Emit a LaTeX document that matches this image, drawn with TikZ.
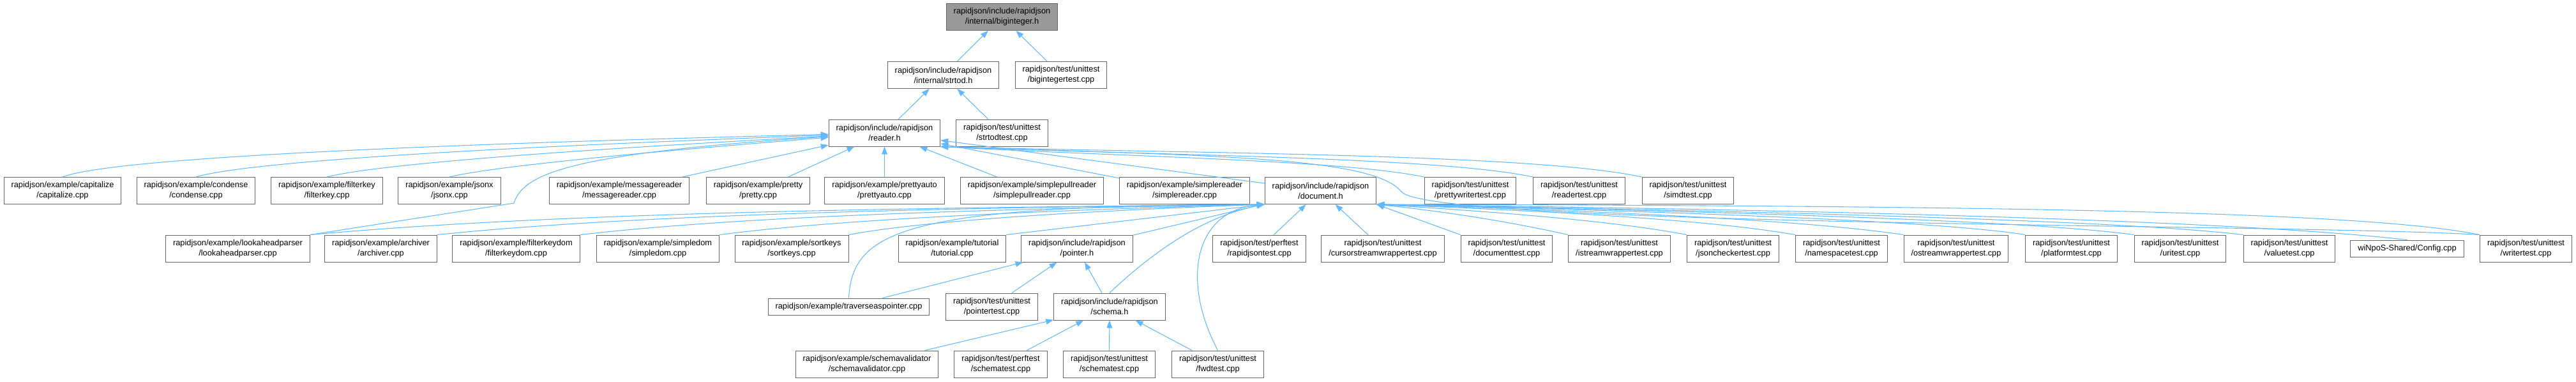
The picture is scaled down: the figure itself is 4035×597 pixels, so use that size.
\documentclass[tikz,border=0pt]{standalone}
\usepackage{fontspec}
\setmainfont{Liberation Sans}
\usetikzlibrary{arrows.meta}
\definecolor{edgeblue}{HTML}{63B8FF}
\definecolor{boxline}{HTML}{666666}
\definecolor{rootfill}{HTML}{999999}

\begin{document}
\begin{tikzpicture}[
  x=0.75pt, y=-0.75pt,
  font=\fontsize{9.6}{12}\selectfont,
  file/.style={draw=boxline, fill=white, line width=0.75pt, align=center,
               inner xsep=8.6pt, inner ysep=0pt, minimum height=31.5pt},
  flat/.style={file, minimum height=19.5pt},
  root/.style={file, fill=rootfill},
  incl/.style={draw=edgeblue, line width=0.8pt, {Triangle[length=9pt,width=6.5pt]}-}
]
\useasboundingbox (0,0) rectangle (4035,597);

\node[root] (biginteger) at (1569.5,26.5) {rapidjson/include/rapidjson\\/internal/biginteger.h};

\node[file] (strtod) at (1477.5,117.5) {rapidjson/include/rapidjson\\/internal/strtod.h};
\node[file] (bigintegertest) at (1662,117.5) {rapidjson/test/unittest\\/bigintegertest.cpp};

\node[file] (reader) at (1385.5,208) {rapidjson/include/rapidjson\\/reader.h};
\node[file] (strtodtest) at (1569.5,208) {rapidjson/test/unittest\\/strtodtest.cpp};

\node[file] (capitalize) at (98,298.5) {rapidjson/example/capitalize\\/capitalize.cpp};
\node[file] (condense) at (307,298.5) {rapidjson/example/condense\\/condense.cpp};
\node[file] (filterkey) at (512,298.5) {rapidjson/example/filterkey\\/filterkey.cpp};
\node[file] (jsonx) at (704,298.5) {rapidjson/example/jsonx\\/jsonx.cpp};
\node[file] (messagereader) at (970,298.5) {rapidjson/example/messagereader\\/messagereader.cpp};
\node[file] (pretty) at (1187.5,298.5) {rapidjson/example/pretty\\/pretty.cpp};
\node[file] (prettyauto) at (1385.5,298.5) {rapidjson/example/prettyauto\\/prettyauto.cpp};
\node[file] (simplepullreader) at (1616.5,298.5) {rapidjson/example/simplepullreader\\/simplepullreader.cpp};
\node[file] (simplereader) at (1855.5,298.5) {rapidjson/example/simplereader\\/simplereader.cpp};
\node[file] (document) at (2068.5,298.5) {rapidjson/include/rapidjson\\/document.h};
\node[file] (prettywritertest) at (2303,298.5) {rapidjson/test/unittest\\/prettywritertest.cpp};
\node[file] (readertest) at (2473.5,298.5) {rapidjson/test/unittest\\/readertest.cpp};
\node[file] (simdtest) at (2644,298.5) {rapidjson/test/unittest\\/simdtest.cpp};

\node[file] (lookaheadparser) at (372.5,389) {rapidjson/example/lookaheadparser\\/lookaheadparser.cpp};
\node[file] (archiver) at (596.5,389) {rapidjson/example/archiver\\/archiver.cpp};
\node[file] (filterkeydom) at (808.5,389) {rapidjson/example/filterkeydom\\/filterkeydom.cpp};
\node[file] (simpledom) at (1030.5,389) {rapidjson/example/simpledom\\/simpledom.cpp};
\node[file] (sortkeys) at (1240,389) {rapidjson/example/sortkeys\\/sortkeys.cpp};
\node[file] (tutorial) at (1491.5,389) {rapidjson/example/tutorial\\/tutorial.cpp};
\node[file] (pointer) at (1687,389) {rapidjson/include/rapidjson\\/pointer.h};
\node[file] (perfrapidjsontest) at (1972.5,389) {rapidjson/test/perftest\\/rapidjsontest.cpp};
\node[file] (cursorstreamwrappertest) at (2166,389) {rapidjson/test/unittest\\/cursorstreamwrappertest.cpp};
\node[file] (documenttest) at (2360,389) {rapidjson/test/unittest\\/documenttest.cpp};
\node[file] (istreamwrappertest) at (2536.5,389) {rapidjson/test/unittest\\/istreamwrappertest.cpp};
\node[file] (jsoncheckertest) at (2714.5,389) {rapidjson/test/unittest\\/jsoncheckertest.cpp};
\node[file] (namespacetest) at (2884.5,389) {rapidjson/test/unittest\\/namespacetest.cpp};
\node[file] (ostreamwrappertest) at (3064,389) {rapidjson/test/unittest\\/ostreamwrappertest.cpp};
\node[file] (platformtest) at (3244.5,389) {rapidjson/test/unittest\\/platformtest.cpp};
\node[file] (uritest) at (3415,389) {rapidjson/test/unittest\\/uritest.cpp};
\node[file] (valuetest) at (3586,389) {rapidjson/test/unittest\\/valuetest.cpp};
\node[flat] (config) at (3770.5,389) {wiNpoS-Shared/Config.cpp};
\node[file] (writertest) at (3956.5,389) {rapidjson/test/unittest\\/writertest.cpp};

\node[flat] (traverseaspointer) at (1329.5,480) {rapidjson/example/traverseaspointer.cpp};
\node[file] (pointertest) at (1553.5,480) {rapidjson/test/unittest\\/pointertest.cpp};
\node[file] (schema) at (1738,480) {rapidjson/include/rapidjson\\/schema.h};

\node[file] (schemavalidator) at (1358,570) {rapidjson/example/schemavalidator\\/schemavalidator.cpp};
\node[file] (perfschematest) at (1567.5,570) {rapidjson/test/perftest\\/schematest.cpp};
\node[file] (schematest) at (1737.5,570) {rapidjson/test/unittest\\/schematest.cpp};
\node[file] (fwdtest) at (1907.5,570) {rapidjson/test/unittest\\/fwdtest.cpp};

\draw[incl] (biginteger) -- (strtod);
\draw[incl] (biginteger) -- (bigintegertest);
\draw[incl] (strtod) -- (reader);
\draw[incl] (strtod) -- (strtodtest);

\draw[incl] (reader) .. controls (1000,218) and (200,238) .. (capitalize.north);
\draw[incl] (reader) .. controls (1050,221) and (420,244) .. (condense.north);
\draw[incl] (reader) .. controls (1100,224) and (620,250) .. (filterkey.north);
\draw[incl] (reader) .. controls (1150,227) and (790,256) .. (jsonx.north);
\foreach \dep in {messagereader,pretty,prettyauto,simplepullreader,simplereader,document}
  \draw[incl] (reader) -- (\dep);
\draw[incl] (reader) .. controls (900,240) and (820,270) .. (805,318) -- (lookaheadparser.north east);
\draw[incl] (reader.south east) .. controls (1750,245) and (2100,250) .. (prettywritertest.north west);
\draw[incl] (reader.south east) .. controls (1800,243) and (2250,245) .. (readertest.north west);
\draw[incl] (reader.south east) .. controls (1850,240) and (2400,240) .. (simdtest.north west);
\draw[incl] (reader.south east) .. controls (1900,244) and (2150,245) .. (2195,300)
  .. controls (2240,355) and (3600,350) .. (writertest.north west);

\draw[incl] (document.south west) .. controls (1500,325) and (900,330) .. (lookaheadparser.north east);
\draw[incl] (document.south west) .. controls (1500,325) and (1000,335) .. (archiver.north east);
\draw[incl] (document.south west) .. controls (1500,328) and (1150,340) .. (filterkeydom.north east);
\draw[incl] (document.south west) .. controls (1600,330) and (1300,345) .. (simpledom.north east);
\draw[incl] (document.south west) .. controls (1700,330) and (1450,345) .. (sortkeys.north east);
\draw[incl] (document.south west) -- (tutorial.north east);
\draw[incl] (document) -- (pointer);
\draw[incl] (document.south west) .. controls (1420,322) and (1335,360) .. (traverseaspointer.north);
\draw[incl] (document.south west) .. controls (1880,340) and (1800,400) .. (schema.north);
\draw[incl] (document.south west) .. controls (1870,330) and (1850,440) .. (fwdtest.north);
\draw[incl] (document) -- (perfrapidjsontest);
\draw[incl] (document) -- (cursorstreamwrappertest);
\draw[incl] (document.south east) -- (documenttest.north west);
\draw[incl] (document.south east) .. controls (2300,335) and (2400,355) .. (istreamwrappertest.north west);
\draw[incl] (document.south east) .. controls (2400,335) and (2550,350) .. (jsoncheckertest.north west);
\draw[incl] (document.south east) .. controls (2500,333) and (2700,348) .. (namespacetest.north west);
\draw[incl] (document.south east) .. controls (2600,333) and (2850,348) .. (ostreamwrappertest.north west);
\draw[incl] (document.south east) .. controls (2700,333) and (3050,348) .. (platformtest.north west);
\draw[incl] (document.south east) .. controls (2800,333) and (3200,348) .. (uritest.north west);
\draw[incl] (document.south east) .. controls (2900,333) and (3350,348) .. (valuetest.north west);
\draw[incl] (document.south east) .. controls (3000,330) and (3550,350) .. (config.north);
\draw[incl] (document.south east) .. controls (3100,322) and (3700,330) .. (writertest.north west);

\draw[incl] (pointer) -- (traverseaspointer);
\draw[incl] (pointer) -- (pointertest);
\draw[incl] (pointer) -- (schema);

\draw[incl] (schema) -- (schemavalidator);
\draw[incl] (schema) -- (perfschematest);
\draw[incl] (schema) -- (schematest);
\draw[incl] (schema) -- (fwdtest);
\end{tikzpicture}
\end{document}
